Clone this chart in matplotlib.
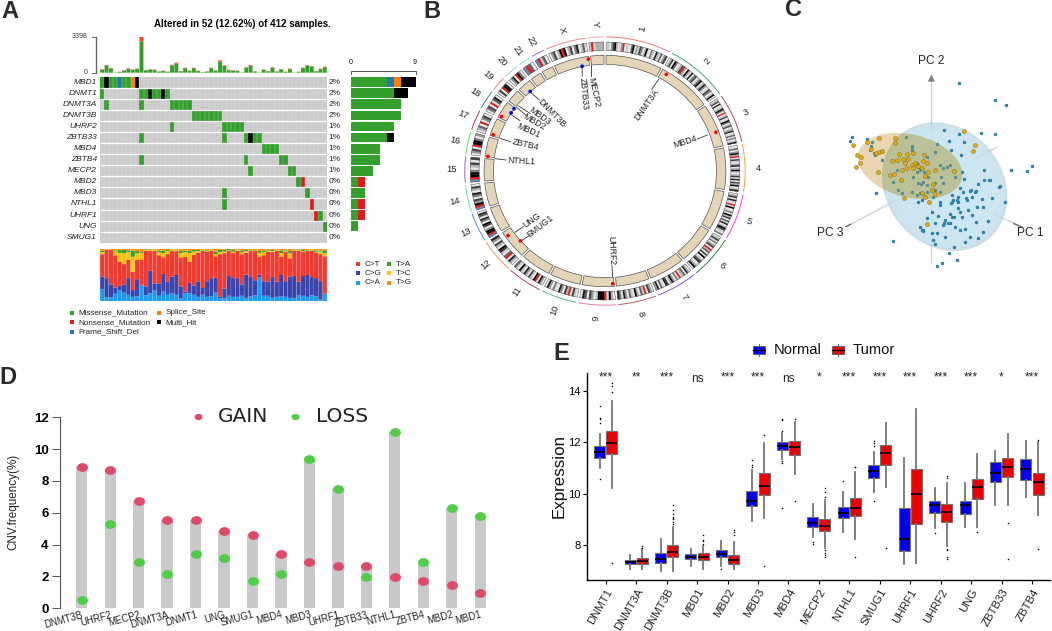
#!/usr/bin/env python
# -*- coding: utf-8 -*-

import numpy as np
import matplotlib
matplotlib.use('Agg')
import matplotlib.pyplot as plt
from matplotlib.colors import ListedColormap
from matplotlib.patches import Wedge, Ellipse, Rectangle
from matplotlib.path import Path
from matplotlib.transforms import Affine2D

plt.rcParams['font.family'] = ['Liberation Sans', 'DejaVu Sans']

W, H = 1052, 631

# ---------------
# Panel A data
# ---------------
onco_genes = ['MBD1', 'DNMT1', 'DNMT3A', 'DNMT3B', 'UHRF2', 'ZBTB33', 'MBD4', 'ZBTB4',
              'MECP2', 'MBD2', 'MBD3', 'NTHL1', 'UHRF1', 'UNG', 'SMUG1']
onco_pct = ['2%', '2%', '2%', '2%', '1%', '1%', '1%', '1%', '1%', '0%', '0%', '0%', '0%', '0%', '0%']

# sample columns per gene, 1 missense, 2 frame shift, 3 nonsense, 4 splice, 5 multi hit
missense_cols = [[0, 2, 3, 5, 6], [0, 9, 10, 12, 13, 15], [1, 9, 16, 17, 18, 19, 20],
                 [21, 22, 23, 24, 25, 26, 27], [16, 28, 29, 30, 31, 32], [9, 28, 33, 35, 36],
                 [37, 38, 39, 40], [9, 33, 41, 42], [34, 43, 44], [45], [28, 47], [28], [50], [51], []]
frameshift_cols = [[4], [], [], [], [], [], [], [], [], [], [], [], [], [], []]
nonsense_cols = [[], [], [], [], [], [], [], [], [], [46], [], [48], [49], [], []]
splice_cols = [[7], [], [], [], [], [], [], [], [], [], [], [], [], [], []]
multihit_cols = [[1, 8], [11, 14], [], [], [], [34], [], [], [], [], [], [], [], [], []]
n_samples = 52

tmb_green = [270, 660, 400, 30, 70, 190, 370, 260, 340, 2960, 220, 280, 250, 100, 170, 80, 680, 860, 130,
             420, 160, 420, 150, 50, 100, 410, 190, 1050, 620, 230, 190, 160, 30, 460, 660, 110, 30,
             280, 130, 450, 100, 310, 70, 340, 30, 80, 430, 640, 560, 130, 330, 510]
tmb_red = [50, 70, 50, 0, 20, 40, 40, 30, 40, 440, 30, 40, 30, 20, 20, 20, 70, 90, 30,
           50, 30, 50, 30, 10, 30, 60, 30, 110, 70, 50, 30, 30, 0, 50, 70, 20, 0,
           30, 30, 50, 30, 40, 30, 40, 0, 20, 40, 60, 50, 30, 50, 60]

right_green = [5, 6, 7, 7, 6, 5, 4, 4, 3, 1, 2, 1, 1, 1, 0]
right_blue = [1, 0, 0, 0, 0, 0, 0, 0, 0, 0, 0, 0, 0, 0, 0]
right_orange = [1, 0, 0, 0, 0, 0, 0, 0, 0, 0, 0, 0, 0, 0, 0]
right_black = [2, 2, 0, 0, 0, 1, 0, 0, 0, 0, 0, 0, 0, 0, 0]
right_red = [0, 0, 0, 0, 0, 0, 0, 0, 0, 1, 0, 1, 1, 0, 0]

# cumulative tops (%) of the titv stack, bottom to top
top_ca = [23, 7, 7, 14, 21, 16, 12, 8, 9, 31, 11, 15, 20, 10, 18, 12, 15, 12, 5, 15, 15, 12, 8, 12, 8, 9,
          16, 5, 5, 10, 8, 8, 10, 6, 9, 11, 45, 10, 10, 6, 8, 9, 8, 6, 5, 11, 10, 8, 11, 9, 3, 14]
top_cg = [47, 44, 32, 26, 29, 32, 44, 21, 42, 31, 28, 58, 34, 34, 52, 37, 47, 50, 28, 18, 35, 30, 38, 25, 38, 44,
          45, 8, 24, 48, 44, 44, 32, 51, 46, 40, 51, 38, 37, 46, 37, 50, 38, 47, 48, 37, 48, 50, 46, 44, 38, 14]
top_ct = [90, 99, 99, 88, 76, 71, 79, 56, 79, 79, 97, 96, 96, 88, 84, 90, 96, 96, 84, 85, 76, 89, 93, 97, 95, 97,
          86, 90, 92, 97, 92, 97, 90, 93, 96, 96, 85, 88, 95, 94, 97, 85, 95, 82, 97, 97, 94, 96, 97, 93, 90, 86]
top_tc = [94, 100, 100, 97, 92, 92, 94, 85, 92, 92, 99, 98, 98, 94, 92, 96, 98, 98, 92, 94, 92, 95, 96, 99, 97, 98,
          90, 94, 95, 98, 95, 98, 94, 96, 97, 97, 92, 94, 97, 96, 98, 92, 97, 92, 98, 98, 96, 97, 98, 95, 95, 92]
top_ta = [97, 100, 100, 98, 98, 98, 97, 97, 96, 94, 100, 99, 99, 97, 97, 98, 99, 99, 96, 97, 96, 98, 98, 100, 98, 99,
          95, 98, 98, 100, 98, 99, 97, 98, 98, 98, 96, 97, 99, 98, 99, 97, 99, 96, 99, 99, 98, 98, 99, 97, 97, 97]

# ---------------
# Panel B data
# ---------------
chrom_names = ['1', '2', '3', '4', '5', '6', '7', '8', '9', '10', '11', '12', '13', '14', '15', '16',
               '17', '18', '19', '20', '21', '22', 'X', 'Y']
chrom_mb = [249, 243, 198, 191, 181, 171, 159, 146, 141, 136, 135, 134, 115, 107, 103, 90,
            81, 78, 59, 63, 48, 51, 155, 59]
chrom_color = ['#f07070', '#3f9a60', '#a0406e', '#f5a030', '#e040d0', '#2f7a3a', '#5a50e0', '#b05050',
               '#e070a0', '#50b070', '#a04848', '#f08a60', '#5080c0', '#60e0b0', '#a050d0', '#60e060',
               '#a04040', '#308a80', '#f08070', '#90e0c0', '#70e0c0', '#a060d0', '#f08080', '#f0a0a0']
# one char per band, 0 lightest to 9 black, r centromere, b stalk
chrom_bands = ['1204793014r02106904175039105208316047', '0370960137r4093180570269038401750290',
               '03708013950r0270196037024801605028', '0160493r0720480392037180739028',
               '0470820r29015093706280397204', '037150470r360719026801490',
               '0380630r150493078016084', '0470r26039026048058', '0390r99920470680',
               '0270r370480150480', '0480r9027048039026', '0380r60279037048',
               'br9940790580680', 'br9470580370', 'br99503707', '0470r99504', '0360r0570',
               '0570r0680', '070r980', '0480r950', 'br60', 'br260', '047039r90370580260', '2r13333']

gene_chr = ['X', 'X', '2', '3', '9', '12', '12', '16', '17', '18', '18', '18', '20']
gene_mb = [153, 119, 25, 129, 6, 54, 109, 2, 7, 72, 47, 10, 31]
gene_ring = [113, 107, 113, 113, 113, 107, 113, 113, 113, 107, 107, 113, 107]
gene_dot = ['red', 'blue', 'red', 'red', 'red', 'red', 'red', 'red', 'red', 'blue', 'blue', 'red', 'blue']

# ---------------
# Panel C data (projected PCA scores)
# ---------------
normal_x = [716, 826, 857, 673, 784, 824, 717, 688, 733, 397, 390, 440, 456, 454, 463, 466, 558, 576, 577, 652,
            692, 722, 873, 921, 935, 792, 793, 808, 727, 732, 705, 720, 750, 767, 787, 815, 855, 840, 468, 519,
            688, 711, 652, 667, 703, 600, 605, 610, 622, 636, 655, 645, 635, 650, 672, 690, 695, 703, 690, 705,
            720, 735, 715, 720, 745, 755, 725, 770, 788, 767, 804, 790, 750, 735, 775, 640, 645, 675, 740, 715,
            700, 695, 715, 730, 765, 755, 738, 595, 600, 612, 625, 580, 595, 602, 610, 620, 645, 645, 620, 600,
            590, 575, 605, 640, 660, 670, 662, 680, 690, 660, 670, 645, 620, 590, 535, 545, 595, 660, 695, 710,
            530, 518, 605, 590, 575, 485, 450, 838, 810, 775, 693, 660, 675, 685, 670, 620, 608, 752]
normal_y = [248, 300, 314, 390, 399, 402, 403, 424, 426, 410, 423, 418, 425, 437, 458, 465, 410, 437, 450, 432,
            450, 465, 511, 512, 498, 511, 540, 541, 516, 538, 530, 563, 572, 573, 596, 595, 607, 557, 578, 724,
            758, 780, 797, 790, 742, 680, 690, 693, 672, 635, 648, 668, 698, 698, 668, 643, 650, 650, 670, 682,
            690, 688, 625, 635, 630, 645, 650, 620, 622, 665, 662, 695, 712, 725, 715, 720, 732, 710, 600, 590,
            600, 585, 605, 575, 575, 590, 595, 500, 510, 515, 530, 530, 550, 552, 545, 555, 550, 570, 575, 580,
            585, 575, 600, 590, 575, 550, 530, 500, 495, 495, 505, 455, 470, 490, 570, 580, 605, 605, 605, 600,
            510, 545, 505, 515, 440, 480, 450, 562, 540, 553, 608, 615, 660, 670, 675, 655, 690, 570]
tumor_x = [731, 766, 760, 526, 478, 440, 399, 453, 467, 478, 487, 410, 424, 421, 408, 474, 537, 560, 578, 612,
           516, 530, 548, 565, 585, 610, 620, 555, 575, 595, 645, 703, 510, 522, 545, 560, 580, 605, 625, 615,
           543, 640, 635, 645, 607, 615, 628, 553, 622, 525]
tumor_y = [392, 435, 452, 415, 413, 427, 436, 448, 460, 456, 453, 464, 471, 490, 500, 516, 461, 462, 460, 466,
           483, 480, 478, 478, 490, 482, 490, 490, 495, 497, 510, 512, 525, 522, 510, 505, 505, 505, 515, 528,
           540, 553, 570, 582, 580, 590, 605, 595, 673, 428]

# ---------------
# Panel D data
# ---------------
cnv_genes = ['DNMT3B', 'UHRF2', 'MECP2', 'DNMT3A', 'DNMT1', 'UNG', 'SMUG1', 'MBD4', 'MBD3', 'UHRF1', 'ZBTB33',
             'NTHL1', 'ZBTB4', 'MBD2', 'MBD1']
cnv_gain = [8.9, 8.7, 6.75, 5.55, 5.55, 4.85, 4.6, 3.4, 2.9, 2.65, 2.65, 1.95, 1.7, 1.45, 0.95]
cnv_loss = [0.5, 5.3, 2.9, 2.15, 3.4, 3.15, 1.7, 2.15, 9.4, 7.5, 1.95, 11.1, 2.9, 6.3, 5.8]

# ---------------
# Panel E data
# ---------------
expr_genes = ['DNMT1', 'DNMT3A', 'DNMT3B', 'MBD1', 'MBD2', 'MBD3', 'MBD4', 'MECP2', 'NTHL1', 'SMUG1', 'UHRF1',
              'UHRF2', 'UNG', 'ZBTB33', 'ZBTB4']
expr_sig = ['***', '**', '***', 'ns', '***', '***', 'ns', '*', '***', '***', '***', '***', '***', '*', '***']
# whisker low, q1, median, q3, whisker high, outliers
normal_box = [
    (11.0, 11.4, 11.6, 11.87, 12.3, [10.55, 12.75, 12.9, 12.95, 13.4]),
    (7.05, 7.27, 7.33, 7.4, 7.6, []),
    (7.0, 7.3, 7.45, 7.68, 8.25, []),
    (7.2, 7.47, 7.55, 7.67, 7.85, []),
    (7.2, 7.55, 7.67, 7.82, 8.15, [7.07]),
    (8.95, 9.53, 9.73, 10.1, 10.9, [11.05, 11.1, 11.3]),
    (11.35, 11.7, 11.85, 12.0, 12.35, [9.45, 11.2, 11.25, 12.45, 12.85, 12.9]),
    (8.3, 8.7, 8.85, 9.08, 9.6, [8.05, 8.1]),
    (8.5, 9.05, 9.25, 9.47, 10.08, [10.5]),
    (10.05, 10.62, 10.87, 11.12, 11.6, [9.7, 11.85, 11.95, 12.05]),
    (7.25, 7.75, 8.25, 9.45, 11.37, []),
    (8.65, 9.25, 9.55, 9.73, 10.22, [8.45]),
    (8.7, 9.22, 9.57, 9.73, 10.4, []),
    (9.55, 10.45, 10.8, 11.22, 11.65, []),
    (9.87, 10.53, 10.97, 11.35, 12.05, []),
]
tumor_box = [
    (10.2, 11.53, 11.95, 12.45, 13.6, [7.3, 13.95, 14.2, 14.3]),
    (7.05, 7.28, 7.38, 7.5, 7.85, [7.9, 7.95]),
    (7.0, 7.55, 7.73, 8.0, 8.7, [8.8, 8.9, 9.0, 9.05, 9.1, 9.2, 9.35, 9.55]),
    (7.05, 7.42, 7.53, 7.68, 7.95, [8.05, 8.15, 8.2, 8.4]),
    (7.07, 7.28, 7.43, 7.63, 8.1, [8.4, 8.5, 8.6]),
    (9.05, 9.93, 10.3, 10.8, 11.95, [7.17, 12.28]),
    (10.75, 11.5, 11.8, 12.05, 12.8, [9.7, 12.92]),
    (7.9, 8.55, 8.75, 9.03, 9.75, [7.55, 7.6, 7.7, 7.8, 9.85, 10.05, 10.2]),
    (8.25, 9.12, 9.45, 9.82, 10.85, [7.55, 11.02, 11.05]),
    (10.25, 11.13, 11.57, 11.9, 12.75, [7.9]),
    (7.3, 8.8, 10.0, 10.95, 13.28, []),
    (7.95, 8.9, 9.27, 9.58, 10.4, [7.45, 7.55, 7.8, 7.85, 10.6, 10.7]),
    (8.7, 9.8, 10.27, 10.57, 11.53, [8.5]),
    (9.55, 10.63, 11.03, 11.37, 12.33, [7.45, 8.87]),
    (9.15, 9.93, 10.45, 10.8, 12.0, [7.83, 12.1]),
]

# ------------------
# Layout helpers
# ------------------
fig = plt.figure(figsize=(W / 100, H / 100), dpi=100)


def px_axes(x0, y0, x1, y1):
    ax = fig.add_axes([x0 / W, 1 - y1 / H, (x1 - x0) / W, (y1 - y0) / H])
    ax.patch.set_alpha(0)
    return ax


ov = px_axes(0, 0, W, H)
ov.set_xlim(0, W)
ov.set_ylim(H, 0)
ov.axis('off')
ov.set_zorder(10)

for label, lx, ly in [('A', 10, 12), ('B', 432, 12), ('C', 794, 10), ('D', 8, 378), ('E', 561, 354)]:
    ov.text(lx, ly, label, fontsize=17, fontweight='bold', color='#2b2b2b', ha='center', va='center')

# ------------------
# Panel A
# ------------------
cA = {'miss': '#33a02c', 'fs': '#1f78b4', 'non': '#e31a1c', 'spl': '#ff7f00', 'multi': 'black'}

ov.text(242, 24, 'Altered in 52 (12.62%) of 412 samples.', fontsize=7.0, fontweight='bold', ha='center', va='center')

top = px_axes(100, 36.7, 327, 72.7)
xs = np.arange(n_samples) + 0.5
top.bar(xs, tmb_green, width=0.9, color=cA['miss'], snap=False)
top.bar(xs, tmb_red, width=0.9, bottom=tmb_green, color='#f0402c', snap=False)
top.set_xlim(0, n_samples)
top.set_ylim(0, 3398)
top.axis('off')
ov.plot([96, 96], [36.7, 72.7], color='#666666', lw=1)
ov.plot([92, 96], [36.7, 36.7], color='#666666', lw=0.7)
ov.plot([92, 96], [72.7, 72.7], color='#666666', lw=0.7)
ov.text(88, 36.7, '3398', fontsize=5, ha='right', va='center', color='#333333')
ov.text(88, 72.7, '0', fontsize=5, ha='right', va='center', color='#333333')

grid = np.zeros((len(onco_genes), n_samples))
for code, cols in enumerate([missense_cols, frameshift_cols, nonsense_cols, splice_cols, multihit_cols], start=1):
    for row, col_list in enumerate(cols):
        grid[row, col_list] = code
mat = px_axes(100, 76.7, 327, 242.7)
mat.pcolormesh(grid, cmap=ListedColormap(['#cccccc', cA['miss'], cA['fs'], cA['non'], cA['spl'], cA['multi']]),
               vmin=-0.5, vmax=5.5, antialiased=False)
mat.vlines(np.arange(1, n_samples), 0, 15, color='#e6e6e6', lw=0.3, alpha=0.7)
mat.hlines(np.arange(1, 15), 0, n_samples, color='white', lw=0.9)
mat.set_xlim(0, n_samples)
mat.set_ylim(15, 0)
mat.axis('off')

row_h = (242.7 - 76.7) / 15
for i, gene in enumerate(onco_genes):
    yy = 76.7 + (i + 0.5) * row_h
    ov.text(97, yy, gene, fontsize=6.0, fontstyle='italic', ha='right', va='center', color='#222222')
    ov.text(328.5, yy, onco_pct[i], fontsize=6.0, ha='left', va='center', color='#222222')

rb = px_axes(351, 76.7, 415.5, 242.7)
rows = np.arange(15) + 0.5
left = np.zeros(15)
for vals, colr in [(right_green, cA['miss']), (right_red, cA['non']), (right_blue, cA['fs']),
                   (right_orange, cA['spl']), (right_black, cA['multi'])]:
    rb.barh(rows, vals, height=0.88, left=left, color=colr)
    left = left + np.array(vals)
rb.set_xlim(0, 9)
rb.set_ylim(15, 0)
rb.axis('off')
ov.plot([351, 351, 415.5, 415.5], [74, 71, 71, 74], color='#555555', lw=0.7)
ov.text(350.5, 63, '0', fontsize=5, ha='center', va='center')
ov.text(415, 63, '9', fontsize=5, ha='center', va='center')

titv = px_axes(100, 249, 327, 301)
tops = [top_ca, top_cg, top_ct, top_tc, top_ta, [100] * n_samples]
titv_cols = ['#1c9bef', '#3a46ab', '#f03b30', '#fcc30d', '#33a02c', '#ff8c10']
prev = np.zeros(n_samples)
for tp, colr in zip(tops, titv_cols):
    tp = np.array(tp)
    titv.bar(xs, tp - prev, width=0.95, bottom=prev, color=colr, snap=False)
    prev = tp
titv.set_xlim(0, n_samples)
titv.set_ylim(0, 100)
titv.axis('off')

for lab, colr, col_i, row_i in [('C>T', titv_cols[2], 0, 0), ('C>G', titv_cols[1], 0, 1), ('C>A', titv_cols[0], 0, 2),
                                ('T>A', titv_cols[4], 1, 0), ('T>C', titv_cols[3], 1, 1), ('T>G', titv_cols[5], 1, 2)]:
    lx = 357.5 + col_i * 31.5
    ly = 264 + row_i * 9.4
    ov.scatter([lx], [ly], marker='s', s=9, color=colr, linewidths=0)
    ov.text(lx + 7, ly, lab, fontsize=5.9, ha='left', va='center', color='#222222')

for lab, colr, lx, ly in [('Missense_Mutation', cA['miss'], 71.5, 313), ('Nonsense_Mutation', cA['non'], 71.5, 322.3),
                          ('Frame_Shift_Del', cA['fs'], 71.5, 332), ('Splice_Site', cA['spl'], 158.5, 313),
                          ('Multi_Hit', cA['multi'], 158.5, 322.3)]:
    ov.scatter([lx], [ly], marker='s', s=9, color=colr, linewidths=0)
    ov.text(lx + 7, ly, lab, fontsize=5.9, ha='left', va='center', color='#222222')

# ------------------
# Panel B
# ------------------
R = 150
circ = px_axes(605 - R * 1.045, 171 - R, 605 + R * 1.045, 171 + R)
circ.set_xlim(-R, R)
circ.set_ylim(-R, R)
circ.axis('off')

gap = 1.0
deg_per_mb = (360 - gap * len(chrom_mb)) / sum(chrom_mb)
starts = {}
theta = gap / 2
for name, mb, band, colr in zip(chrom_names, chrom_mb, chrom_bands, chrom_color):
    starts[name] = theta
    span = mb * deg_per_mb
    t0, t1 = 90 - theta - span, 90 - theta
    # outer colour arc
    circ.add_patch(Wedge((0, 0), 134.6, t0, t1, width=0.9, color=colr, lw=0))
    # cytobands
    step = span / len(band)
    circ.add_patch(Wedge((0, 0), 129, t0, t1, width=8.5, fc='#bdbdbd', ec='none', lw=0))
    for k, ch in enumerate(band):
        if ch == 'r':
            fc = '#f01818'
        elif ch == 'b':
            fc = '#5a8fc0'
        else:
            fc = str(round(0.92 - 0.92 * (int(ch) / 9) ** 1.3, 3))
        circ.add_patch(Wedge((0, 0), 129, t1 - (k + 1) * step, t1 - k * step, width=8.5, fc=fc, ec=fc, lw=0.1))
    circ.add_patch(Wedge((0, 0), 129, t0, t1, width=8.5, fc='none', ec='#444444', lw=0.3))
    # tan ring
    circ.add_patch(Wedge((0, 0), 115.7, t0, t1, width=9, fc='#e4d5b7', ec='#555555', lw=0.5))
    # chromosome name, radial text
    mid = theta + span / 2
    rot = 90 - mid if mid <= 180 else 270 - mid
    circ.text(147 * np.sin(np.radians(mid)), 147 * np.cos(np.radians(mid)), name, fontsize=6.8,
              ha='center', va='center', rotation=rot, color='#222222')
    theta += span + gap

g_theta = np.radians([starts[c] + m * deg_per_mb for c, m in zip(gene_chr, gene_mb)])
circ.scatter(np.array(gene_ring) * np.sin(g_theta), np.array(gene_ring) * np.cos(g_theta), s=7, c=gene_dot,
             linewidths=0, zorder=5)


# gene labels and their pointers, positions read in the 3x crop of this panel
def z2(zx, zy):
    return 420 + zx / 3, zy / 3


gene_labels = [('MECP2', 522, 278, -78, (513, 195, 513, 228)), ('ZBTB33', 492, 283, -85, (486, 200, 487, 228)),
               ('DNMT3A', 680, 315, 55, (716, 238, 695, 268)), ('MBD4', 795, 425, 18, (862, 405, 832, 417)),
               ('UHRF2', 575, 752, -88, (578, 830, 576, 797)), ('SMUG1', 362, 680, 38, (305, 722, 330, 705)),
               ('UNG', 337, 660, 35, (285, 697, 310, 680)), ('NTHL1', 304, 484, -3, (225, 476, 258, 480)),
               ('ZBTB4', 316, 435, -13, (240, 415, 272, 425)), ('MBD1', 326, 392, -24, (275, 345, 300, 362)),
               ('MBD2', 342, 367, -30, (290, 322, 318, 346)), ('MBD3', 358, 349, -36, (296, 318, 330, 340)),
               ('DNMT3B', 396, 341, -46, (335, 280, 358, 300))]
for name, zx, zy, rot, seg in gene_labels:
    lx, ly = z2(zx, zy)
    ov.text(lx, ly, name, fontsize=6.3, rotation=rot, ha='center', va='center', color='#222222',
            rotation_mode='anchor')
    a = z2(seg[0], seg[1])
    b = z2(seg[2], seg[3])
    ov.plot([a[0], b[0]], [a[1], b[1]], color='#333333', lw=0.6)

# ------------------
# Panel C, 3x scale coordinates of the panel
# ------------------
pc = px_axes(720, 0, 1052, 320)
pc.set_xlim(0, 996)
pc.set_ylim(960, 0)
pc.axis('off')
for x0, y0, x1, y1 in [(634, 790, 634, 235), (382, 678, 830, 442), (540, 520, 905, 680)]:
    pc.plot([x0, x1], [y0, y1], color='#d4d4d4', lw=1.0, zorder=1)
pc.annotate('', xy=(634, 215), xytext=(634, 245), arrowprops=dict(arrowstyle='-|>', color='#808080', lw=1, mutation_scale=9))
pc.plot([378, 392], [680, 673], color='#707070', lw=1.0, zorder=1)
pc.plot([882, 905], [671, 681], color='#707070', lw=1.0, zorder=1)

blue_shell = Ellipse((674, 560), 410, 350, angle=50, fc='#a9cbd8', alpha=0.6, ec='none', zorder=2)
pc.add_patch(blue_shell)
for f, alpha in [(0.96, 0.5), (0.85, 0.4), (0.65, 0.3)]:
    pc.add_patch(Ellipse((674, 560), 410 * f, 350 * f, angle=50, fc='#cdeaf7', alpha=alpha, ec='none', zorder=2))
pc.scatter(normal_x, normal_y, s=6, color='#2b7fa8', linewidths=0, zorder=3)
pc.add_patch(Ellipse((570, 498), 320, 188, angle=14, fc='#d2a95c', alpha=0.48, ec='none', zorder=4))
overlap = Ellipse((570, 498), 320, 188, angle=14, fc='#8cae66', alpha=0.28, ec='none', zorder=4)
pc.add_patch(overlap)
overlap.set_clip_path(blue_shell)
pc.scatter(normal_x, normal_y, s=5, color='#3585ad', alpha=0.55, linewidths=0, zorder=5)
pc.scatter(tumor_x, tumor_y, s=9, color='#e0a810', edgecolors='#5a4a10', linewidths=0.2, zorder=6)

for lab, lx, ly in [('PC 2', 634, 182), ('PC 3', 332, 700), ('PC 1', 932, 700)]:
    pc.text(lx, ly, lab, fontsize=8.6, ha='center', va='center', color='#222222')

# ------------------
# Panel D
# ------------------
axd = px_axes(59.5, 417.3, 500, 608.3)
pos = np.arange(len(cnv_genes))
axd.bar(pos, np.maximum(cnv_gain, cnv_loss), width=0.395, color='#c9c9c9')
egg = Path.unit_circle().transformed(Affine2D().scale(1, 0.8))
axd.scatter(pos, cnv_gain, marker=egg, s=62, color='#e0496a', linewidths=0, zorder=3, clip_on=False)
axd.scatter(pos, cnv_loss, marker=egg, s=62, color='#4fce46', linewidths=0, zorder=3, clip_on=False)
axd.set_ylim(0, 12)
axd.set_xlim(-(81.7 - 59.5) / 28.47, (500 - 81.7) / 28.47)
axd.spines[['top', 'right', 'bottom']].set_visible(False)
axd.spines['left'].set_color('#555555')
axd.set_yticks(np.arange(0, 13, 2))
axd.tick_params(axis='y', labelsize=9.5, length=6, width=0.7, color='#555555', pad=2)
for t in axd.get_yticklabels():
    t.set_fontweight('bold')
axd.set_xticks(pos)
axd.set_xticklabels(cnv_genes, rotation=15, ha='right', rotation_mode='anchor', fontsize=6.9, color='#222222')
axd.tick_params(axis='x', length=0, pad=1)
ov.text(13.5, 502, 'CNV.frequency(%)', fontsize=8.4, rotation=90, ha='center', va='center', color='#222222')
ov.scatter([198.5, 295.5], [417, 417], marker=egg, s=32, color=['#e0496a', '#4fce46'], linewidths=0)
ov.text(218, 417, 'GAIN', fontsize=14.5, ha='left', va='center', color='#222222', family='DejaVu Sans')
ov.text(316, 417, 'LOSS', fontsize=14.5, ha='left', va='center', color='#222222', family='DejaVu Sans')

# ------------------
# Panel E
# ------------------
axe = px_axes(587.3, 373, 1050, 580)
expr_pos = np.arange(1, len(expr_genes) + 1)


def box_stats(rows):
    return [dict(whislo=r[0], q1=r[1], med=r[2], q3=r[3], whishi=r[4], fliers=r[5]) for r in rows]


for stats, offs, colr in [(normal_box, -0.2, '#0000ee'), (tumor_box, 0.2, '#ee0000')]:
    axe.bxp(box_stats(stats), positions=expr_pos + offs, widths=0.36, patch_artist=True, showcaps=False,
            boxprops=dict(facecolor=colr, edgecolor='#707070', lw=0.8),
            medianprops=dict(color='black', lw=1.2, solid_capstyle='butt'),
            whiskerprops=dict(color='#757575', lw=1.3),
            flierprops=dict(marker='o', ms=1.1, mfc='black', mec='black', mew=0))
axe.set_xlim(0.396, 15.59)
axe.set_ylim(6.64, 14.69)
axe.spines[['top', 'right']].set_visible(False)
axe.spines[['left', 'bottom']].set_linewidth(1)
axe.set_yticks([8, 10, 12, 14])
axe.tick_params(axis='y', labelsize=8, length=3, width=0.8, pad=2)
axe.set_xticks(expr_pos)
axe.set_xticklabels(expr_genes, rotation=60, ha='right', rotation_mode='anchor', fontsize=8.2, color='#222222')
axe.tick_params(axis='x', length=3, width=0.8, pad=2)
for p, s in zip(expr_pos, expr_sig):
    axe.text(p, 14.45 if s == 'ns' else 14.5, s, fontsize=8.6, ha='center', va='center', color='#222222')
ov.text(559, 476, 'Expression', fontsize=12.2, rotation=90, ha='center', va='center', color='#111111')

for lx, colr, lab in [(759, '#0000ee', 'Normal'), (838, '#ee0000', 'Tumor')]:
    ov.plot([lx, lx], [344, 356], color='#666666', lw=0.8)
    ov.add_patch(Rectangle((lx - 6, 345.7), 12, 8.7, fc=colr, ec='#666666', lw=0.7, zorder=3))
    ov.plot([lx - 6, lx + 6], [350, 350], color='black', lw=1, zorder=4)
    ov.text(lx + 14.5, 350, lab, fontsize=10.6, ha='left', va='center', color='#111111')

plt.savefig('out.png', dpi=100)
